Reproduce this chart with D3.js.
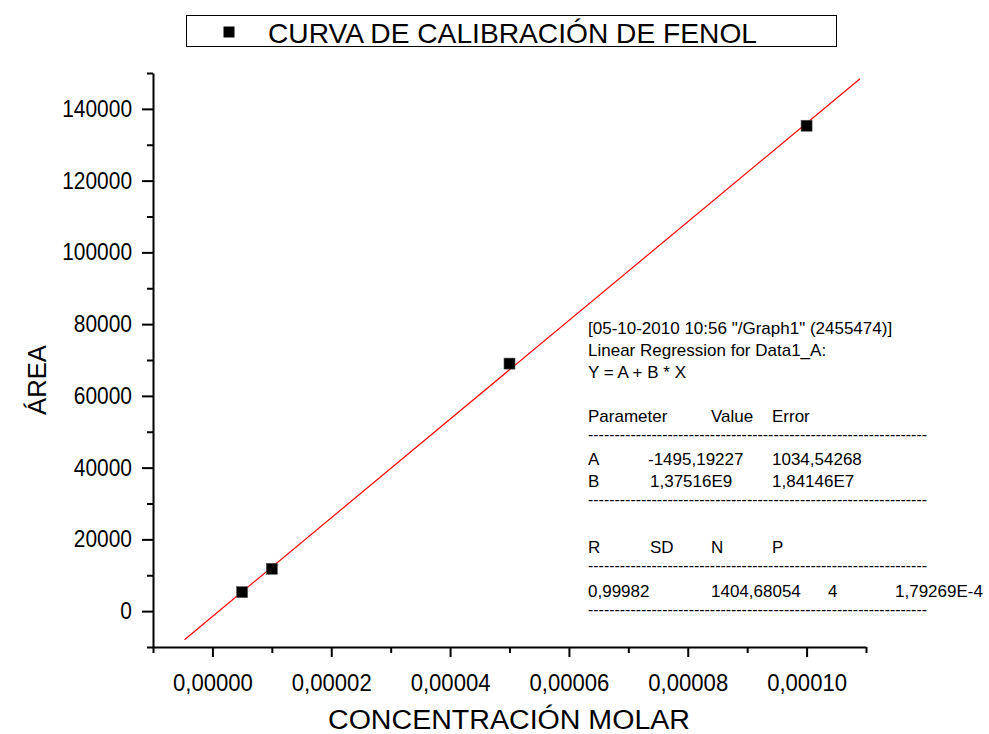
<!DOCTYPE html>
<html>
<head>
<meta charset="utf-8">
<script src="https://cdn.jsdelivr.net/npm/d3@7/dist/d3.min.js"></script>
<style>
  html, body { margin: 0; padding: 0; background: #fff; }
  svg { display: block; font-family: "Liberation Sans", Arial, sans-serif; }
</style>
</head>
<body>
<svg id="chart" width="989" height="734"></svg>
<script>
// Calibration data: molar concentration vs. peak area
const concentrations = [0.000005, 0.00001, 0.00005, 0.0001];
const areas = [5290, 11800, 69000, 135300];

// Linear regression result Y = A + B * X
const fitA = -1495.19227;
const fitB = 1.37516e9;
const fitRange = [-0.0000047, 0.000109];

// Axis ticks
const xMajorTicks = [0, 0.00002, 0.00004, 0.00006, 0.00008, 0.0001];
const xMinorTicks = [-0.00001, 0.00001, 0.00003, 0.00005, 0.00007, 0.00009, 0.00011];
const yMajorTicks = [0, 20000, 40000, 60000, 80000, 100000, 120000, 140000];
const yMinorTicks = [-10000, 10000, 30000, 50000, 70000, 90000, 110000, 130000, 150000];

// Regression report lines: [text, x] pairs per row, null = blank row, "dash" = separator
const reportRows = [
  [["[05-10-2010 10:56 \"/Graph1\" (2455474)]", 0]],
  [["Linear Regression for Data1_A:", 0]],
  [["Y = A + B * X", 0]],
  null,
  [["Parameter", 0], ["Value", 123], ["Error", 184]],
  "dash",
  [["A", 0], ["-1495,19227", 60], ["1034,54268", 184]],
  [["B", 0], ["1,37516E9", 62], ["1,84146E7", 184]],
  "dash",
  null,
  [["R", 0], ["SD", 62], ["N", 123], ["P", 184]],
  "dash",
  [["0,99982", 0], ["1404,68054", 123], ["4", 240], ["1,79269E-4", 307]],
  "dash"
];

const svg = d3.select("#chart");

const x = d3.scaleLinear().domain([-0.00001, 0.00011]).range([153, 866]);
const y = d3.scaleLinear().domain([-10000, 150000]).range([647, 73]);

const locale = d3.formatLocale({ decimal: ",", thousands: ".", grouping: [3], currency: ["", ""] });
const fmtX = locale.format(".5f");
const fmtY = d3.format("d");

// X axis
const xAxisG = svg.append("g").attr("transform", `translate(0,${y.range()[0]})`);
xAxisG.call(d3.axisBottom(x).tickValues(xMajorTicks).tickFormat(fmtX).tickSize(10).tickSizeOuter(0).tickPadding(12));
svg.append("g").attr("transform", `translate(0,${y.range()[0]})`)
  .call(d3.axisBottom(x).tickValues(xMinorTicks).tickFormat("").tickSize(6).tickSizeOuter(0))
  .select(".domain").remove();

// Y axis
const yAxisG = svg.append("g").attr("transform", `translate(${x.range()[0]},0)`);
yAxisG.call(d3.axisLeft(y).tickValues(yMajorTicks).tickFormat(fmtY).tickSize(11).tickSizeOuter(0).tickPadding(10));
svg.append("g").attr("transform", `translate(${x.range()[0]},0)`)
  .call(d3.axisLeft(y).tickValues(yMinorTicks).tickFormat("").tickSize(6).tickSizeOuter(0))
  .select(".domain").remove();

svg.selectAll(".domain").attr("stroke", "#000").attr("stroke-width", 2);
svg.selectAll(".tick line").attr("stroke", "#000").attr("stroke-width", 2);
svg.selectAll(".tick text").attr("fill", "#000").attr("font-size", 23.5)
  .attr("font-family", "'Liberation Sans', Arial, sans-serif");
xAxisG.selectAll(".tick text").attr("dy", "0.92em");

// Slightly condensed tick labels
function condense(sel, k) {
  sel.each(function () {
    const w = this.getComputedTextLength();
    d3.select(this).attr("textLength", w * k).attr("lengthAdjust", "spacingAndGlyphs");
  });
}
condense(yAxisG.selectAll(".tick text"), 0.89);
condense(xAxisG.selectAll(".tick text"), 0.94);

// Regression line
const fitLine = d3.line().x(d => x(d)).y(d => y(fitA + fitB * d));
svg.append("path")
  .datum(fitRange)
  .attr("d", fitLine)
  .attr("fill", "none")
  .attr("stroke", "#ff0000")
  .attr("stroke-width", 1.2);

// Data points
const size = 11;
svg.append("g").selectAll("rect")
  .data(concentrations.map((c, i) => [c, areas[i]]))
  .join("rect")
  .attr("x", d => x(d[0]) - size / 2)
  .attr("y", d => y(d[1]) - size / 2)
  .attr("width", size)
  .attr("height", size)
  .attr("fill", "#000")
  .attr("stroke", "#555")
  .attr("stroke-width", 0.6);

// Axis titles
svg.append("text")
  .attr("x", 509).attr("y", 729)
  .attr("text-anchor", "middle")
  .attr("font-size", 27)
  .attr("textLength", 362)
  .attr("lengthAdjust", "spacingAndGlyphs")
  .text("CONCENTRACIÓN MOLAR");

svg.append("text")
  .attr("transform", "translate(46,380) rotate(-90)")
  .attr("text-anchor", "middle")
  .attr("font-size", 26)
  .attr("textLength", 70)
  .attr("lengthAdjust", "spacingAndGlyphs")
  .text("ÁREA");

// Legend
const legend = svg.append("g");
legend.append("rect")
  .attr("x", 186.5).attr("y", 15.5).attr("width", 650).attr("height", 31)
  .attr("fill", "#fff").attr("stroke", "#000").attr("stroke-width", 1);
legend.append("rect")
  .attr("x", 229 - size / 2).attr("y", 32 - size / 2).attr("width", size).attr("height", size)
  .attr("fill", "#000");
legend.append("text")
  .attr("x", 268).attr("y", 42.5)
  .attr("font-size", 28)
  .attr("textLength", 489)
  .attr("lengthAdjust", "spacingAndGlyphs")
  .text("CURVA DE CALIBRACIÓN DE FENOL");

// Regression report
const report = svg.append("g").attr("transform", "translate(588,334)");
const pitch = 21.9;
reportRows.forEach((row, i) => {
  if (row === null) return;
  if (row === "dash") {
    report.append("text")
      .attr("x", 0).attr("y", i * pitch - 4)
      .attr("font-size", 17)
      .attr("textLength", 339)
      .attr("lengthAdjust", "spacingAndGlyphs")
      .text("-".repeat(64));
    return;
  }
  row.forEach(([t, dx]) => {
    report.append("text")
      .attr("x", dx).attr("y", i * pitch)
      .attr("font-size", 17)
      .text(t);
  });
});
</script>
</body>
</html>
